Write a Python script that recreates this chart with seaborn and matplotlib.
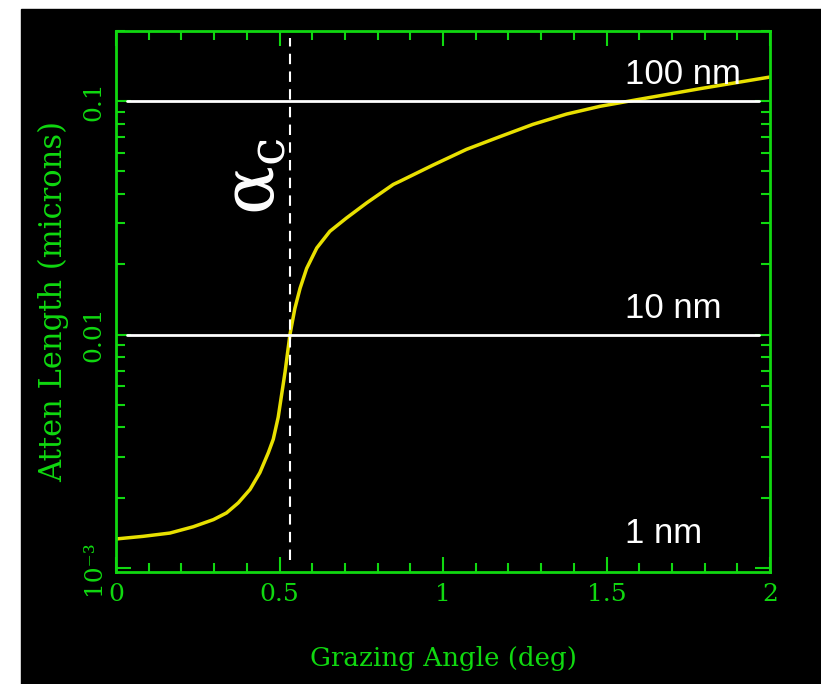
import numpy as np
import pandas as pd
import matplotlib
matplotlib.use("Agg")
import matplotlib.pyplot as plt
import matplotlib.ticker as mticker
from matplotlib.patches import Rectangle
import seaborn as sns

sns.set_style("dark", {"axes.facecolor": "black", "axes.edgecolor": "#10d810",
                       "grid.color": "black"})
plt.rcParams['font.family'] = ['DejaVu Serif']
plt.rcParams['mathtext.fontset'] = 'custom'
plt.rcParams['mathtext.rm'] = 'Liberation Sans'
plt.rcParams['mathtext.it'] = 'Liberation Sans'

green = '#10d810'

# curve
angle = [0.0, 0.083, 0.165, 0.236, 0.298, 0.338, 0.374, 0.41, 0.44, 0.466,
         0.481, 0.496, 0.517, 0.532, 0.547, 0.563, 0.583, 0.614, 0.654, 0.705,
         0.767, 0.848, 0.87, 0.97, 1.072, 1.174, 1.275, 1.378, 1.48, 1.593,
         1.786, 2.0]
atten = [1.33e-3, 1.365e-3, 1.41e-3, 1.50e-3, 1.61e-3, 1.72e-3, 1.90e-3,
         2.17e-3, 2.56e-3, 3.12e-3, 3.56e-3, 4.42e-3, 6.91e-3, 0.0100, 0.01294,
         0.0158, 0.0192, 0.0235, 0.0277, 0.0316, 0.0367, 0.0440, 0.0455, 0.0533,
         0.0622, 0.0705, 0.0796, 0.0881, 0.0951, 0.1015, 0.1132, 0.127]
alpha_c = 0.532
ref_levels = [0.1, 0.01]
ref_text = ['100 nm', '10 nm', '1 nm']
ref_text_y = [0.118, 0.0118, 0.00128]
xticks = [0, 0.5, 1, 1.5, 2]
xticklabels = ['0', '0.5', '1', '1.5', '2']
yticks = [0.001, 0.01, 0.1]
yticklabels = ['10⁻³', '0.01', '0.1']

df = pd.DataFrame({'angle': angle, 'atten': atten})

fig = plt.figure(figsize=(8.21, 6.84), dpi=100, facecolor='white')
fig.patches.append(Rectangle((21 / 821, 0), 1, (684 - 9) / 684,
                             transform=fig.transFigure, color='black', zorder=-10))
ax = fig.add_axes([116 / 821, 1 - 572 / 684, 654 / 821, 541 / 684])
ax.set_facecolor('black')

sns.lineplot(data=df, x='angle', y='atten', ax=ax, color='#e8e000', lw=2.5)
ax.set_yscale('log')
ax.set_xlim(0, 2)
ax.set_ylim(0.00096, 0.2)

for lev in ref_levels:
    ax.axhline(lev, xmin=0.017, xmax=0.983, color='white', lw=2)
ax.axvline(alpha_c, ymin=0.022, ymax=0.987, color='white', lw=1.5,
           ls=(0, (5, 3.5)))

for t, yv in zip(ref_text, ref_text_y):
    ax.text(1.557, yv, t, color='white', fontsize=25, family='Liberation Sans',
            ha='left', va='baseline')

# alpha_c label, rotated
ax.text(0.483, 0.0326, r'$\mathregular{\alpha_c}$', color='white', fontsize=52,
        rotation=90, rotation_mode='anchor', ha='left', va='baseline')

ax.set_xticks(xticks, labels=xticklabels)
ax.xaxis.set_minor_locator(mticker.MultipleLocator(0.1))
ax.set_yticks(yticks, labels=yticklabels)
ax.yaxis.set_minor_locator(mticker.LogLocator(subs=np.arange(2, 10)))
ax.yaxis.set_minor_formatter(mticker.NullFormatter())

ax.tick_params(which='both', direction='in', top=True, right=True, color=green,
               labelcolor=green, labelsize=18, width=1.5, bottom=True, left=True)
ax.tick_params(which='major', length=11, pad=8)
ax.tick_params(which='minor', length=6.5)
ax.tick_params(axis='y', labelrotation=90)
for lab in ax.get_yticklabels():
    lab.set_va('center')

for s in ax.spines.values():
    s.set_color(green)
    s.set_linewidth(2)
ax.grid(False)

ax.set_xlabel('Grazing Angle (deg)', color=green, fontsize=18.8, labelpad=29)
ax.set_ylabel('Atten Length (microns)', color=green, fontsize=22, labelpad=9)

fig.savefig('out.png', dpi=100, facecolor='white')
